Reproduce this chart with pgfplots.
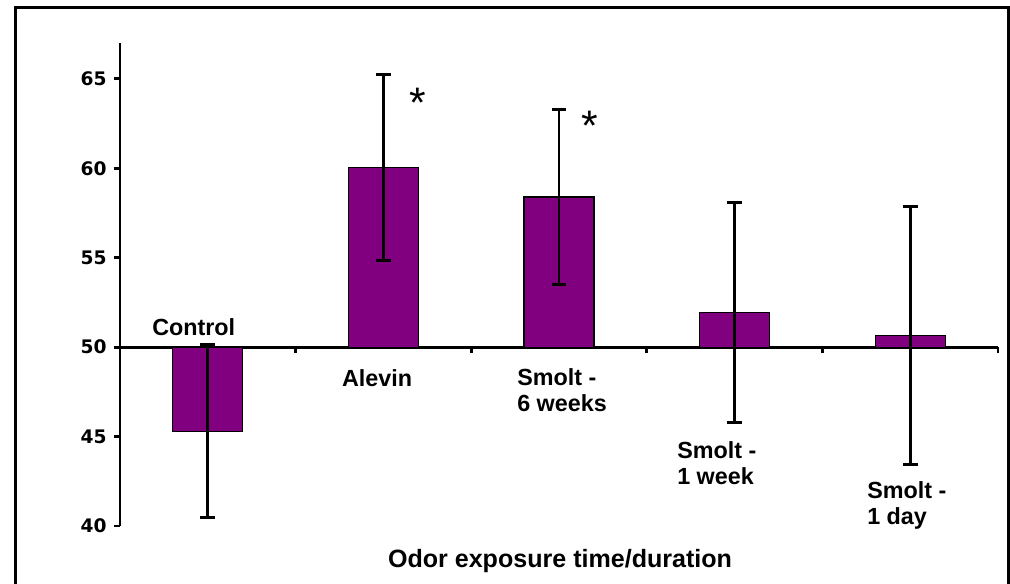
\documentclass[border=0pt]{standalone}
\usepackage{pgfplots}
\usepackage{pgfplotstable}
\pgfplotsset{compat=1.18}
\usepackage{fontspec}
\setmainfont{Liberation Sans}
\newfontfamily\tickfont{DejaVu Sans}
\definecolor{barpurple}{HTML}{800080}

% group means and error-bar half-widths
\pgfplotstableread{
x y err
0 45.3 4.85
1 60.05 5.2
2 58.4 4.87
3 51.95 6.15
4 50.65 7.2
}\odordata

\begin{document}
\begin{tikzpicture}
\useasboundingbox (0,0) rectangle (757.5pt,438pt);
\draw[line width=2.25pt] (11.25pt,-5pt) rectangle (756pt,432.4pt);
\begin{axis}[
  at={(90pt,43.5pt)}, anchor=south west,
  scale only axis, width=658.5pt, height=362.1pt,
  xmin=-0.5, xmax=4.5, ymin=40, ymax=67,
  % bars grow from the 50 level
  y coord trafo/.code={\pgfmathparse{#1-50}},
  y coord inv trafo/.code={\pgfmathparse{#1+50}},
  axis x line=middle, axis y line=left,
  hide obscured x ticks=false, hide obscured y ticks=false,
  axis line style={-, line width=2.2pt},
  xtick={-0.5,0.5,...,4.5}, xticklabels={},
  ytick={40,45,50,55,60,65}, yticklabels={40,45,50,55,60,65},
  tick align=outside, major tick length=4.5pt,
  tick style={line width=2.2pt, black},
  yticklabel style={font=\tickfont\bfseries\fontsize{14}{16}\selectfont, xshift=-2pt},
  clip=false,
]
\addplot[ybar, bar width=52.5pt, fill=barpurple, draw=black, line width=0.8pt,
  error bars/.cd, y dir=both, y explicit,
  error bar style={line width=2.2pt, black},
  error mark options={rotate=90, mark size=5.5pt, line width=2.2pt, black}]
  table[x=x, y=y, y error=err]{\odordata};

\begin{scope}[every node/.style={font=\fontsize{17.5}{19.5}\selectfont\bfseries, align=left, inner sep=0pt}]
\node[anchor=center] at (axis cs:-0.08,51.13) {Control};
\node[anchor=center] at (axis cs:0.964,48.28) {Alevin};
\node[anchor=west] at (axis cs:1.761,47.61) {Smolt -\\6 weeks};
\node[anchor=west] at (axis cs:2.672,43.5) {Smolt -\\1 week};
\node[anchor=west] at (axis cs:3.754,41.17) {Smolt -\\1 day};
\end{scope}

\node[font=\fontsize{18.8}{20}\selectfont\bfseries, inner sep=0pt] at (axis cs:2.006,38.04) {Odor exposure time/duration};

\node[font=\fontsize{32}{34}\selectfont, anchor=base, inner sep=0pt] at (axis cs:1.195,62.84) {*};
\node[font=\fontsize{32}{34}\selectfont, anchor=base, inner sep=0pt] at (axis cs:2.177,61.54) {*};
\end{axis}
\end{tikzpicture}
\end{document}
